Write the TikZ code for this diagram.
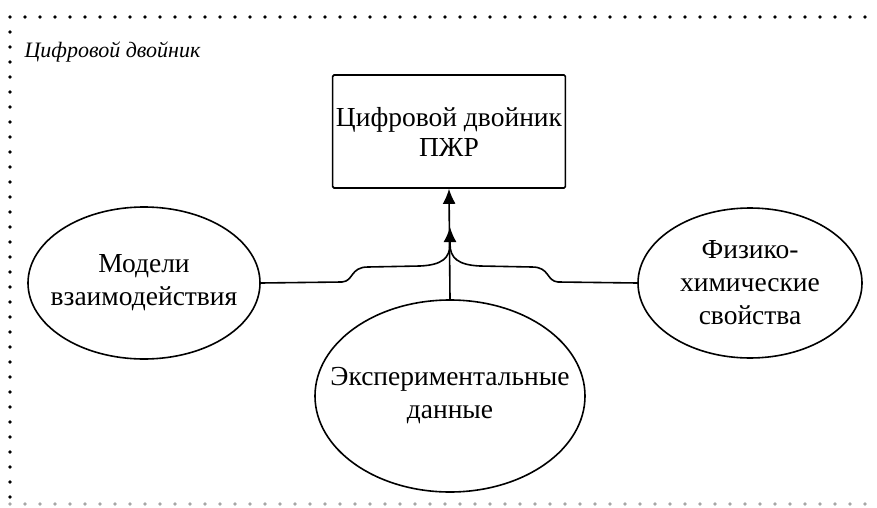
\documentclass[tikz,border=0pt]{standalone}
\usepackage{fontspec}
\setmainfont{Liberation Serif}
\usetikzlibrary{arrows.meta,shapes.geometric}
\begin{document}
\begin{tikzpicture}[x=1pt,y=-1pt,
  every node/.style={font=\fontsize{27.5}{33}\selectfont, align=center},
  frameline/.style={line width=3.6pt, line cap=round, dash pattern=on 0pt off 15pt},
  block/.style={draw, line width=1.6pt, rounded corners=1.5pt, minimum width=228pt, minimum height=113pt},
  oval/.style={draw, ellipse, line width=1.6pt, inner sep=-40pt},
  link/.style={line width=1.6pt},
  tip/.style={-{Latex[length=15pt,width=13pt]}}
]
\useasboundingbox (0,0) rectangle (877,508);

% dotted frame of the group
\draw[frameline] (10,497) -- (10,17) -- (877,17);
\draw[frameline, black!35] (10,504) -- (877,504);
\node[anchor=base west, font=\fontsize{22}{24}\selectfont\itshape] (title) at (21,58) {Цифровой двойник};

% main block and the three sources
\node[block, font=\fontsize{27.5}{30}\selectfont] (box) at (449,131.5) {Цифровой двойник\\ПЖР};
\node[oval, minimum width=232pt, minimum height=152pt] (lm) at (144,283) {Модели\\взаимодействия};
\node[oval, minimum width=224pt, minimum height=150pt] (rm) at (750,283) {Физико-\\химические\\свойства};
\node[oval, minimum width=270pt, minimum height=192pt] (bm) at (450,396) {Экспериментальные\\данные};

% connectors
\coordinate (merge) at (450,244);
\coordinate (mtip) at (450,227);
\draw[link, tip] (bm.north) -- (box.south);
\draw[link] (lm.east) -- (342,282)
  .. controls (354,281) and (350,267) .. (368,267) -- (420,266)
  .. controls (442,265) and (450,258) .. (merge);
\draw[link] (merge) .. controls (450,258) and (458,265) .. (480,266)
  -- (532,267) .. controls (550,267) and (546,281) .. (558,282) -- (rm.west);
\draw[link, tip] (merge) -- (mtip);
\end{tikzpicture}
\end{document}
